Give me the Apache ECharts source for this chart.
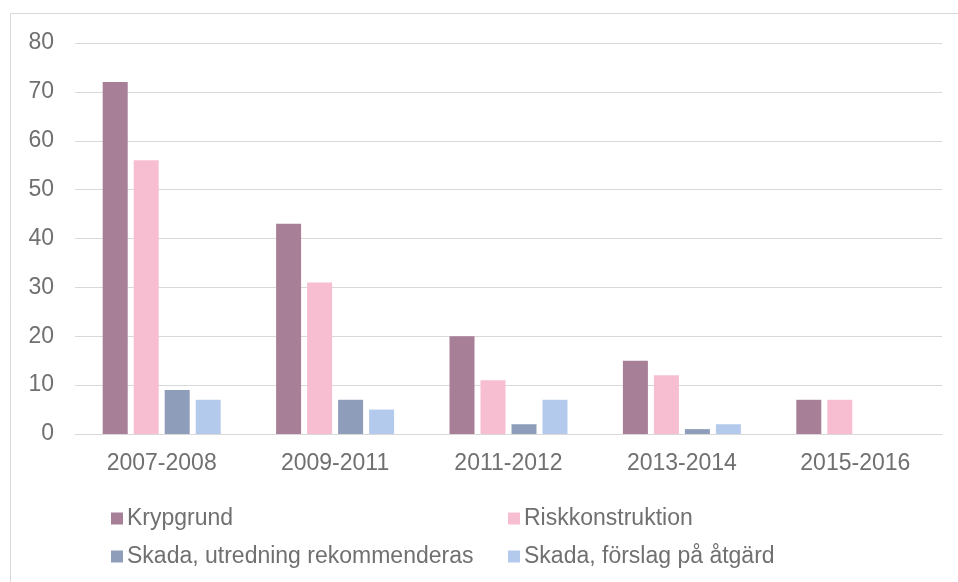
<!DOCTYPE html>
<html>
<head>
<meta charset="utf-8">
<script src="https://cdn.jsdelivr.net/npm/echarts@6/dist/echarts.min.js"></script>
<style>
html, body { margin: 0; padding: 0; background: #fff; }
#chart { width: 958px; height: 582px; }
</style>
</head>
<body>
<div id="chart"></div>
<script>
var CATEGORIES = ['2007-2008', '2009-2011', '2011-2012', '2013-2014', '2015-2016'];
var SERIES_NAMES = ['Krypgrund', 'Riskkonstruktion', 'Skada, utredning rekommenderas', 'Skada, förslag på åtgärd'];
var KRYPGRUND = [72, 43, 20, 15, 7];
var RISKKONSTRUKTION = [56, 31, 11, 12, 7];
var UTREDNING = [9, 7, 2, 1, 0];
var FORSLAG = [7, 5, 7, 2, 0];
var COLORS = ['#a77f96', '#f7bed2', '#8e9eba', '#b4caec'];

var values = [KRYPGRUND, RISKKONSTRUKTION, UTREDNING, FORSLAG];
var FONT = 'Liberation Sans, Arial';
var TEXT_COLOR = '#707070';

// legend: one component per item so they sit in two columns
var legendPos = [[106, 502], [503, 502], [106, 540], [503, 540]];
var legends = SERIES_NAMES.map(function (name, i) {
    return {
        data: [name],
        left: legendPos[i][0],
        top: legendPos[i][1],
        itemWidth: 12,
        itemHeight: 12,
        itemGap: 4,
        icon: 'rect',
        textStyle: { fontFamily: FONT, fontSize: 23, color: TEXT_COLOR, padding: [0, 0, 0, -1] },
        selectedMode: false
    };
});

var series = SERIES_NAMES.map(function (name, i) {
    return {
        name: name,
        type: 'bar',
        data: values[i],
        barWidth: 25,
        barGap: '24%',
        itemStyle: { color: COLORS[i] },
        emphasis: { disabled: true }
    };
});

var option = {
    animation: false,
    color: COLORS,
    graphic: [{
        type: 'rect',
        shape: { x: 10.5, y: 13.5, width: 960, height: 600 },
        style: { fill: 'none', stroke: '#d9d9d9', lineWidth: 1 },
        silent: true
    }],
    legend: legends,
    grid: { left: 75, right: 16, top: 43, bottom: 148 },
    xAxis: {
        type: 'category',
        data: CATEGORIES,
        axisLine: { lineStyle: { color: '#d9d9d9', width: 1 } },
        axisTick: { show: false },
        axisLabel: { fontFamily: FONT, fontSize: 23, color: TEXT_COLOR, margin: 18 }
    },
    yAxis: {
        type: 'value',
        min: 0,
        max: 80,
        interval: 10,
        axisLine: { show: false },
        axisTick: { show: false },
        splitLine: { lineStyle: { color: '#d9d9d9', width: 1 } },
        axisLabel: { fontFamily: FONT, fontSize: 23, color: TEXT_COLOR, margin: 21 }
    },
    series: series
};

var myChart = echarts.init(document.getElementById('chart'));
myChart.setOption(option);
</script>
</body>
</html>
